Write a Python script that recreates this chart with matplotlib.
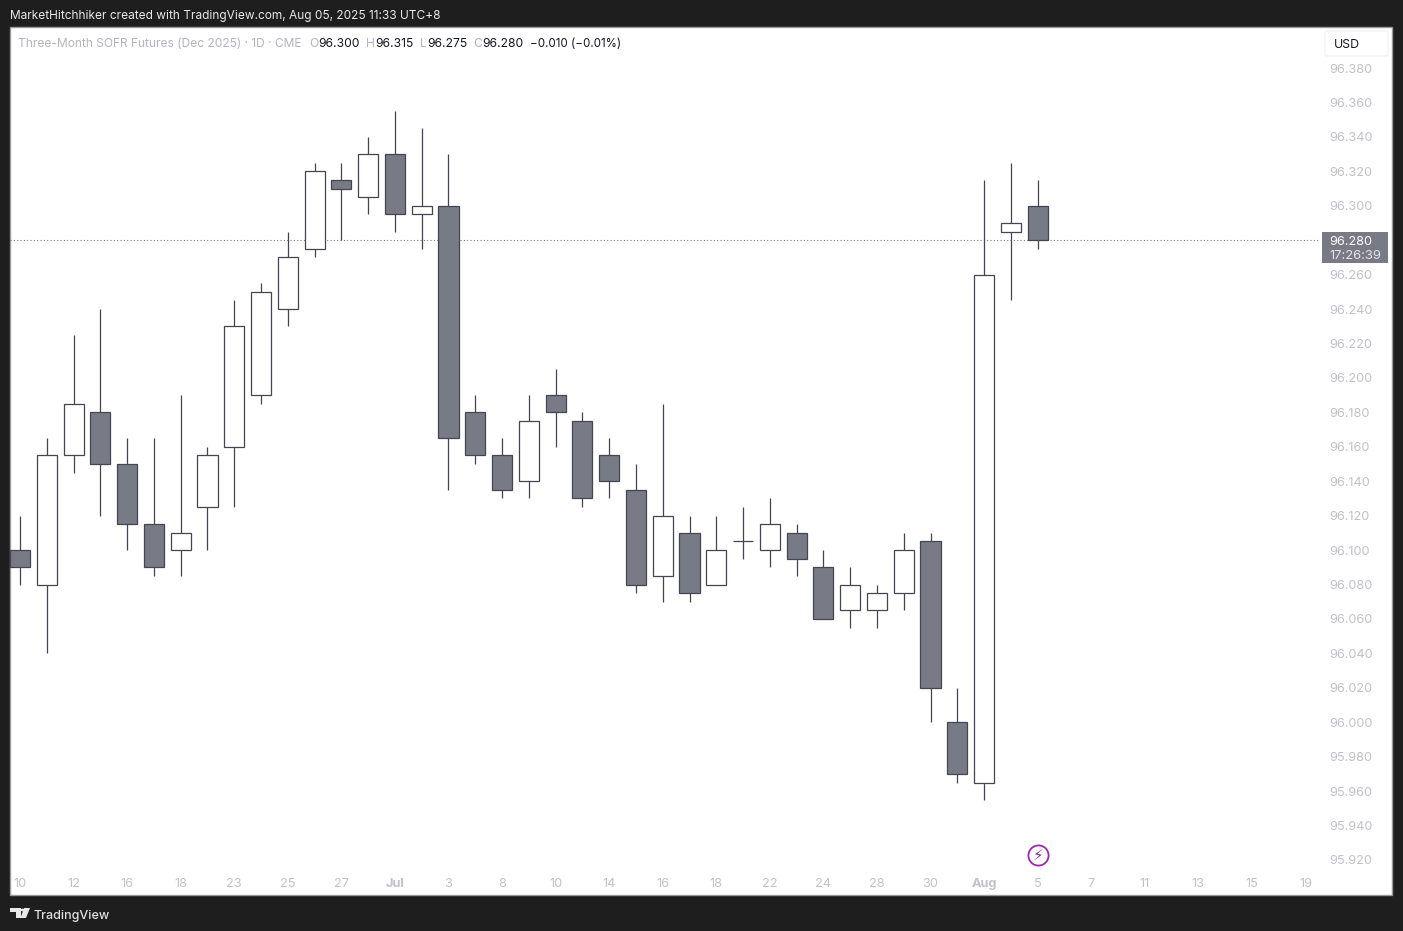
# plot.py
import matplotlib
matplotlib.use("Agg")
import matplotlib.pyplot as plt
from matplotlib.patches import Rectangle, FancyBboxPatch, Polygon, Circle

W, H = 1403, 931

opens = [96.100, 96.080, 96.155, 96.180, 96.150, 96.115, 96.100, 96.125, 96.160, 96.190,
         96.240, 96.275, 96.315, 96.305, 96.330, 96.295, 96.300, 96.180, 96.155, 96.140,
         96.190, 96.175, 96.155, 96.135, 96.085, 96.110, 96.080, 96.105, 96.100, 96.110,
         96.090, 96.065, 96.065, 96.075, 96.105, 96.000, 95.965, 96.285, 96.300]
highs = [96.120, 96.165, 96.225, 96.240, 96.165, 96.165, 96.190, 96.160, 96.245, 96.255,
         96.285, 96.325, 96.325, 96.340, 96.355, 96.345, 96.330, 96.190, 96.165, 96.190,
         96.205, 96.180, 96.165, 96.150, 96.185, 96.120, 96.120, 96.125, 96.130, 96.115,
         96.100, 96.090, 96.080, 96.110, 96.110, 96.020, 96.315, 96.325, 96.315]
lows = [96.080, 96.040, 96.145, 96.120, 96.100, 96.085, 96.085, 96.100, 96.125, 96.185,
        96.230, 96.270, 96.280, 96.295, 96.285, 96.275, 96.135, 96.150, 96.130, 96.130,
        96.160, 96.125, 96.130, 96.075, 96.070, 96.070, 96.080, 96.095, 96.090, 96.085,
        96.060, 96.055, 96.055, 96.065, 96.000, 95.965, 95.955, 96.245, 96.275]
closes = [96.090, 96.155, 96.185, 96.150, 96.115, 96.090, 96.110, 96.155, 96.230, 96.250,
          96.270, 96.320, 96.310, 96.330, 96.295, 96.300, 96.165, 96.155, 96.135, 96.175,
          96.180, 96.130, 96.140, 96.080, 96.120, 96.075, 96.100, 96.105, 96.115, 96.095,
          96.060, 96.080, 96.075, 96.100, 96.020, 95.970, 96.260, 96.290, 96.280]

price_ticks = [96.38, 96.36, 96.34, 96.32, 96.30, 96.28, 96.26, 96.24, 96.22, 96.20, 96.18, 96.16,
               96.14, 96.12, 96.10, 96.08, 96.06, 96.04, 96.02, 96.00, 95.98, 95.96, 95.94, 95.92]
hidden_tick = 96.28  # covered by the last price tag
date_ticks = [0, 2, 4, 6, 8, 10, 12, 14, 16, 18, 20, 22, 24, 26, 28, 30, 32, 34, 36, 38, 40, 42, 44, 46, 48]
date_labels = ["10", "12", "16", "18", "23", "25", "27", "Jul", "3", "8", "10", "14", "16",
               "18", "22", "24", "28", "30", "Aug", "5", "7", "11", "13", "15", "19"]
last_price = 96.280
event_bar = 38
event_price = 95.9229

# ---------- colours ----------
DARK = "#1e1e1e"
WICK = "#434651"
GREY = "#787b86"
FAINT = "#b2b5be"
TEXT = "#131722"
PURPLE = "#9c27b0"

plt.rcParams["font.family"] = ["Inter", "DejaVu Sans"]

# pixel layout of the price scale and bars
PANE = (10, 27, 1392, 895)
PLOT_R, PLOT_B = 1320, 870
BAR0_X, BAR_STEP = 20.0, 26.78
P_TOP, P_TOP_Y, PX_PER_UNIT = 96.38, 68.0, 1721.7


def fx(x):
    return x / W


def fy(y):
    return 1 - y / H


def ftext(fig, x, y, s, **kw):
    kw.setdefault("va", "center")
    kw.setdefault("ha", "left")
    return fig.text(fx(x), fy(y), s, **kw)


def frect(fig, x0, y0, x1, y1, **kw):
    r = Rectangle((fx(x0), fy(y1)), (x1 - x0) / W, (y1 - y0) / H, transform=fig.transFigure, **kw)
    fig.add_artist(r)
    return r


def draw_logo(fig):
    # TradingView mark
    for pts in (
        [(10, 908), (21, 908), (21, 918), (16, 918), (16, 912), (10, 912)],
        [(24, 908), (30, 908), (26, 918), (20.5, 918)],
    ):
        fig.add_artist(Polygon([(fx(a), fy(b)) for a, b in pts], closed=True, facecolor="#e8e8e8",
                               edgecolor="none", transform=fig.transFigure))
    fig.add_artist(Circle((fx(22.5), fy(910)), 2 / W, facecolor="#e8e8e8", edgecolor="none",
                          transform=fig.transFigure))


fig = plt.figure(figsize=(W / 100, H / 100), dpi=100, facecolor=DARK)

# white pane behind everything
frect(fig, PANE[0], PANE[1], PANE[2], PANE[3], facecolor="white", edgecolor="#9a9a9a", linewidth=1, zorder=-5)

ax = fig.add_axes([fx(PANE[0]), fy(PLOT_B), (PLOT_R - PANE[0]) / W, (PLOT_B - PANE[1]) / H])
ax.patch.set_alpha(0)
for s in ax.spines.values():
    s.set_visible(False)
ax.set_xlim((PANE[0] - BAR0_X) / BAR_STEP, (PLOT_R - BAR0_X) / BAR_STEP)
ax.set_ylim(P_TOP - (PLOT_B - P_TOP_Y) / PX_PER_UNIT, P_TOP + (P_TOP_Y - PANE[1]) / PX_PER_UNIT)

ax.axhline(last_price, color="#787b86", linewidth=0.8, linestyle=(0, (1, 2)), zorder=1)

xs = list(range(len(opens)))
ax.vlines(xs, lows, highs, color=WICK, linewidth=0.9, zorder=2)
for i in xs:
    lo = min(opens[i], closes[i])
    hi = max(opens[i], closes[i])
    face = GREY if closes[i] < opens[i] else "white"
    ax.bar(i, hi - lo, bottom=lo, width=0.75, facecolor=face, edgecolor=WICK, linewidth=0.9, zorder=3)

ax.set_yticks(price_ticks)
ax.set_yticklabels([f"{p:.3f}" if p != hidden_tick else "" for p in price_ticks])
ax.yaxis.tick_right()
ax.tick_params(axis="y", length=0, pad=7, labelsize=9.2, labelcolor="#c0c2c9")
ax.set_xticks(date_ticks)
ax.set_xticklabels(date_labels)
ax.tick_params(axis="x", length=0, pad=6, labelsize=9.2, labelcolor="#c0c2c9")
for lab in ax.get_xticklabels():
    if lab.get_text() in ("Jul", "Aug"):
        lab.set_fontweight("bold")

# earnings/event marker
ax.plot([event_bar], [event_price], marker="o", markersize=14.5, markerfacecolor="white",
        markeredgecolor=PURPLE, markeredgewidth=1.3, clip_on=False, zorder=4)
ax.text(event_bar, event_price, "\u26a1", color=PURPLE, fontsize=11, ha="center", va="center",
        family="DejaVu Sans", zorder=5)

# header and footer
ftext(fig, 10, 15.5, "MarketHitchhiker created with TradingView.com, Aug 05, 2025 11:33 UTC+8",
      color="#e8e8e8", fontsize=8.55)
ftext(fig, 33, 916, "TradingView", color="#e0e0e0", fontsize=9.0, fontweight="medium")

# legend line
for x, s, c, size in [
    (18, "Three-Month SOFR Futures (Dec 2025) \u00b7 1D \u00b7 CME", FAINT, 8.62),
    (309, "O", FAINT, 8.7), (318, "96.300", TEXT, 8.7),
    (366, "H", FAINT, 8.7), (375, "96.315", TEXT, 8.7),
    (420, "L", FAINT, 8.7), (427, "96.275", TEXT, 8.7),
    (473, "C", FAINT, 8.7), (482, "96.280", TEXT, 8.7),
    (530, "\u22120.010 (\u22120.01%)", TEXT, 8.38),
]:
    ftext(fig, x, 44, s, color=c, fontsize=size)

# currency box
fig.add_artist(FancyBboxPatch((fx(1325), fy(56)), 63 / W, 25 / H, boxstyle="round,pad=0,rounding_size=0.002",
                              facecolor="white", edgecolor="#f0f1f3", linewidth=0.9,
                              transform=fig.transFigure))
ftext(fig, 1334, 44.5, "USD", color=TEXT, fontsize=8.9)

# last price tag
frect(fig, 1322, 232, 1388, 263, facecolor=GREY, edgecolor="none")
ftext(fig, 1329.5, 242, f"{last_price:.3f}", color="white", fontsize=9.2)
ftext(fig, 1329.5, 256, "17:26:39", color="#e3e4e8", fontsize=9.4)

draw_logo(fig)

fig.savefig("out.png", dpi=100, facecolor=DARK)
